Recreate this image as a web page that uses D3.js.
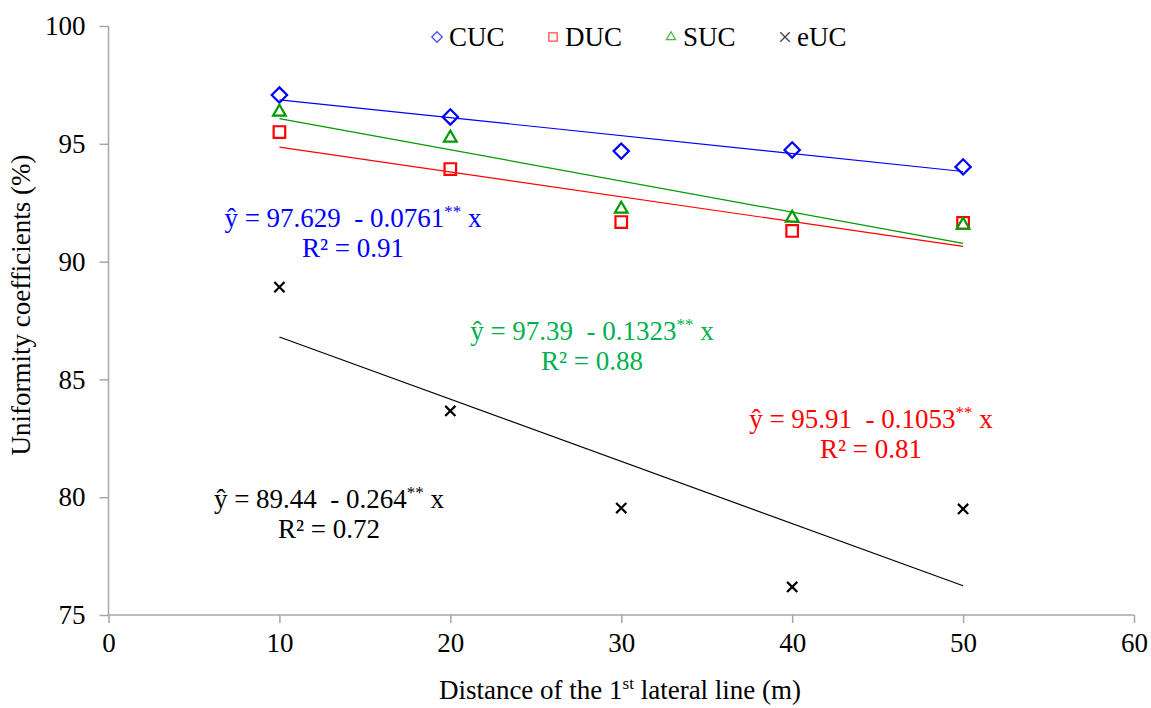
<!DOCTYPE html>
<html>
<head>
<meta charset="utf-8">
<script src="https://cdn.jsdelivr.net/npm/d3@7"></script>
<style>
  body { margin: 0; background: #fff; }
  text { font-family: "Liberation Serif", "Times New Roman", serif; white-space: pre; }
</style>
</head>
<body>
<svg id="chart"></svg>
<script>
(function() {

// ---------- data ----------
const distances = [10, 20, 30, 40, 50];
const cucValues = [97.07, 96.14, 94.69, 94.74, 94.02];
const ducValues = [95.50, 93.93, 91.68, 91.30, 91.64];
const sucValues = [96.35, 95.25, 92.23, 91.85, 91.55];
const eucValues = [88.92, 83.66, 79.54, 76.19, 79.50];

const seriesNames = ["CUC", "DUC", "SUC", "eUC"];
const intercepts = [97.629, 95.91, 97.39, 89.44];
const slopes = [-0.0761, -0.1053, -0.1323, -0.264];
const eqIntercepts = ["97.629", "95.91", "97.39", "89.44"];
const eqSlopes = ["0.0761", "0.1053", "0.1323", "0.264"];
const rSquared = ["0.91", "0.81", "0.88", "0.72"];

const xTicks = [0, 10, 20, 30, 40, 50, 60];
const yTicks = [75, 80, 85, 90, 95, 100];

// ---------- layout ----------
const width = 1151;
const height = 708;
const margin = { top: 26, right: 17, bottom: 93, left: 108.5 };
const fs = 27;

const series = [
  { name: "CUC", values: cucValues, color: "#0000ff", symbol: d3.symbolDiamond2, size: 150, legendSize: 70,
    eqColor: "#0000ff", eqX: 353, eqY: 227 },
  { name: "DUC", values: ducValues, color: "#ff0000", symbol: d3.symbolSquare2, size: 170, legendSize: 90,
    eqColor: "#ff0000", eqX: 871, eqY: 428 },
  { name: "SUC", values: sucValues, color: "#009a00", symbol: d3.symbolTriangle2, size: 115, legendSize: 60,
    eqColor: "#00b050", eqX: 592, eqY: 340 },
  { name: "eUC", values: eucValues, color: "#000000", symbol: d3.symbolTimes, size: 70, legendSize: 60,
    eqColor: "#000000", eqX: 329, eqY: 508 }
];

const svg = d3.select("#chart")
  .attr("width", width)
  .attr("height", height);

const x = d3.scaleLinear().domain([0, 60]).range([margin.left, width - margin.right]);
const y = d3.scaleLinear().domain([75, 100]).range([height - margin.bottom, margin.top]);

const axisColor = "#a6a6a6";

// y axis
const yAxis = svg.append("g")
  .attr("transform", `translate(${margin.left},0)`)
  .call(d3.axisLeft(y).tickValues(yTicks).tickSize(9).tickPadding(14));
// x axis
const xAxis = svg.append("g")
  .attr("transform", `translate(0,${height - margin.bottom})`)
  .call(d3.axisBottom(x).tickValues(xTicks).tickSize(8).tickPadding(10));

[xAxis, yAxis].forEach(ax => {
  ax.select(".domain").attr("stroke", axisColor).attr("stroke-width", 1.5);
  ax.selectAll(".tick line").attr("stroke", axisColor).attr("stroke-width", 1.5);
  ax.selectAll(".tick text")
    .attr("fill", "#000")
    .attr("font-size", fs + "px")
    .attr("font-family", "Liberation Serif, serif");
});
// plain domain lines without outer caps
xAxis.select(".domain").attr("d", `M${x(0)},0H${x(60)}`);
yAxis.select(".domain").attr("d", `M0,${y(100)}V${y(75)}`);

// axis titles
svg.append("text")
  .attr("transform", `translate(30,305) rotate(-90)`)
  .attr("text-anchor", "middle")
  .attr("font-size", fs + "px")
  .text("Uniformity coefficients (%)");

const xTitle = svg.append("text")
  .attr("x", 620)
  .attr("y", 699)
  .attr("text-anchor", "middle")
  .attr("font-size", fs + "px");
xTitle.append("tspan").text("Distance of the 1");
xTitle.append("tspan").attr("font-size", "17px").attr("dy", -10).text("st");
xTitle.append("tspan").attr("dy", 10).text(" lateral line (m)");

// trend lines
series.forEach((s, i) => {
  const x0 = d3.min(distances), x1 = d3.max(distances);
  svg.append("line")
    .attr("x1", x(x0)).attr("y1", y(intercepts[i] + slopes[i] * x0))
    .attr("x2", x(x1)).attr("y2", y(intercepts[i] + slopes[i] * x1))
    .attr("stroke", s.color)
    .attr("stroke-width", 1.2);
});

// markers
series.forEach(s => {
  svg.append("g")
    .selectAll("path")
    .data(distances.map((d, j) => [d, s.values[j]]))
    .join("path")
      .attr("transform", d => `translate(${x(d[0])},${y(d[1])})`)
      .attr("d", d3.symbol(s.symbol, s.size))
      .attr("fill", "none")
      .attr("stroke", s.color)
      .attr("stroke-width", 2.2);
});

// equations
series.forEach((s, i) => {
  const t = svg.append("text")
    .attr("x", s.eqX)
    .attr("y", s.eqY)
    .attr("text-anchor", "middle")
    .attr("font-size", fs + "px")
    .attr("fill", s.eqColor);
  t.append("tspan").text(`ŷ = ${eqIntercepts[i]}  - ${eqSlopes[i]}`);
  t.append("tspan").attr("font-size", "17px").attr("dy", -10).text("**");
  t.append("tspan").attr("dy", 10).text(" x");

  svg.append("text")
    .attr("x", s.eqX)
    .attr("y", s.eqY + 30)
    .attr("text-anchor", "middle")
    .attr("font-size", fs + "px")
    .attr("fill", s.eqColor)
    .text(`R² = ${rSquared[i]}`);
});

// legend
const legendX = [437, 553, 671, 785];
const legend = svg.append("g");
series.forEach((s, i) => {
  legend.append("path")
    .attr("transform", `translate(${legendX[i]},37)`)
    .attr("d", d3.symbol(s.symbol, s.legendSize))
    .attr("fill", "none")
    .attr("stroke", s.color)
    .attr("stroke-opacity", s.name === "eUC" ? 0.75 : 0.7)
    .attr("stroke-width", 1.3);
  legend.append("text")
    .attr("x", legendX[i] + 12)
    .attr("y", 46)
    .attr("font-size", fs + "px")
    .text(seriesNames[i]);
});

})();
</script>
</body>
</html>
